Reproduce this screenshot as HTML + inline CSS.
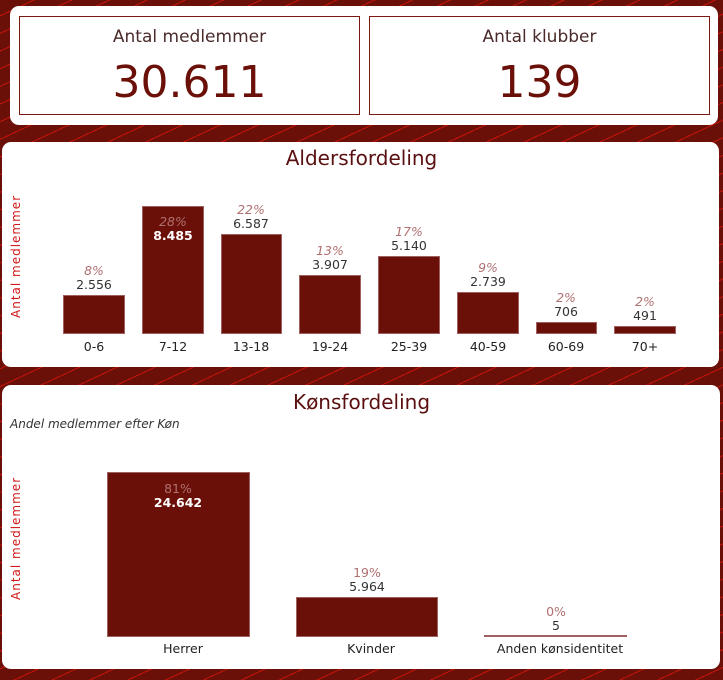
<!DOCTYPE html>
<html><head><meta charset="utf-8"><style>
*{margin:0;padding:0;box-sizing:border-box}
body{width:723px;height:680px;overflow:hidden;position:relative;font-family:"DejaVu Sans","Liberation Sans",sans-serif;
background:#6a1008;
background-image:repeating-linear-gradient(-25deg,#6a1008 0 11px,#c8140c 11px 12px,#6a1008 12px 16px);}
.p{position:absolute;background:#fff;border-radius:9px}
.a{position:absolute}
.box{position:absolute;border:1px solid #7a1a10;background:#fff;text-align:center}
.box .t{font-size:17px;color:#4a2a2a;margin-top:10px}
.box .n{font-size:44px;color:#6a1008;margin-top:10px;line-height:52px}
.bar{position:absolute;background:#6a1008;border:1px solid #a06060}
.lb{position:absolute;text-align:center;font-size:12.5px;color:#222}
.pc{position:absolute;text-align:center;font-size:12.5px;color:#b07070;font-style:italic}
.c{position:absolute;text-align:center;font-size:12.5px;color:#333}
.yl{position:absolute;color:#d01818;font-size:12px;letter-spacing:1px;transform:rotate(-90deg);transform-origin:left top;white-space:nowrap}
</style></head><body>
<div class="p" style="left:10px;top:6px;width:708px;height:119px"></div>
<div class="box" style="left:19px;top:16px;width:341px;height:99px"><div class="t">Antal medlemmer</div><div class="n">30.611</div></div>
<div class="box" style="left:369px;top:16px;width:341px;height:99px"><div class="t">Antal klubber</div><div class="n">139</div></div>

<div class="p" style="left:2px;top:142px;width:717px;height:225px"></div>
<div class="a" style="left:0;width:723px;top:146px;text-align:center;font-size:20px;color:#5a1010">Aldersfordeling</div>
<div class="yl" style="left:9px;top:318px">Antal medlemmer</div>

<div class="bar" style="left:63px;top:295px;width:62px;height:39px"></div>
<div class="bar" style="left:142px;top:206px;width:62px;height:128px"></div>
<div class="bar" style="left:221px;top:234px;width:61px;height:100px"></div>
<div class="bar" style="left:299px;top:275px;width:62px;height:59px"></div>
<div class="bar" style="left:378px;top:256px;width:62px;height:78px"></div>
<div class="bar" style="left:457px;top:292px;width:62px;height:42px"></div>
<div class="bar" style="left:536px;top:322px;width:61px;height:12px"></div>
<div class="bar" style="left:614px;top:326px;width:62px;height:8px"></div>

<div class="pc" style="left:54px;width:80px;top:263px">8%</div><div class="c" style="left:54px;width:80px;top:277px">2.556</div>
<div class="pc" style="left:133px;width:80px;top:214px">28%</div><div class="c" style="left:133px;width:80px;top:228px;color:#fff;font-weight:bold">8.485</div>
<div class="pc" style="left:211px;width:80px;top:202px">22%</div><div class="c" style="left:211px;width:80px;top:216px">6.587</div>
<div class="pc" style="left:290px;width:80px;top:243px">13%</div><div class="c" style="left:290px;width:80px;top:257px">3.907</div>
<div class="pc" style="left:369px;width:80px;top:224px">17%</div><div class="c" style="left:369px;width:80px;top:238px">5.140</div>
<div class="pc" style="left:448px;width:80px;top:260px">9%</div><div class="c" style="left:448px;width:80px;top:274px">2.739</div>
<div class="pc" style="left:526px;width:80px;top:290px">2%</div><div class="c" style="left:526px;width:80px;top:304px">706</div>
<div class="pc" style="left:605px;width:80px;top:294px">2%</div><div class="c" style="left:605px;width:80px;top:308px">491</div>

<div class="lb" style="left:54px;width:80px;top:339px">0-6</div>
<div class="lb" style="left:133px;width:80px;top:339px">7-12</div>
<div class="lb" style="left:211px;width:80px;top:339px">13-18</div>
<div class="lb" style="left:290px;width:80px;top:339px">19-24</div>
<div class="lb" style="left:369px;width:80px;top:339px">25-39</div>
<div class="lb" style="left:448px;width:80px;top:339px">40-59</div>
<div class="lb" style="left:526px;width:80px;top:339px">60-69</div>
<div class="lb" style="left:605px;width:80px;top:339px">70+</div>

<div class="p" style="left:2px;top:385px;width:718px;height:284px"></div>
<div class="a" style="left:0;width:723px;top:390px;text-align:center;font-size:20px;color:#5a1010">Kønsfordeling</div>
<div class="a" style="left:10px;top:417px;font-size:12px;font-style:italic;color:#333">Andel medlemmer efter Køn</div>
<div class="yl" style="left:9px;top:600px">Antal medlemmer</div>

<div class="bar" style="left:107px;top:472px;width:143px;height:165px"></div>
<div class="bar" style="left:296px;top:597px;width:142px;height:40px"></div>
<div class="bar" style="left:484px;top:635px;width:143px;height:2px;border:none;background:#a06060"></div>

<div class="pc" style="left:128px;width:100px;top:481px;font-style:normal">81%</div><div class="c" style="left:128px;width:100px;top:495px;color:#fff;font-weight:bold">24.642</div>
<div class="pc" style="left:317px;width:100px;top:565px;font-style:normal">19%</div><div class="c" style="left:317px;width:100px;top:579px">5.964</div>
<div class="pc" style="left:506px;width:100px;top:604px;font-style:normal">0%</div><div class="c" style="left:506px;width:100px;top:618px">5</div>

<div class="lb" style="left:103px;width:160px;top:641px">Herrer</div>
<div class="lb" style="left:291px;width:160px;top:641px">Kvinder</div>
<div class="lb" style="left:480px;width:160px;top:641px">Anden kønsidentitet</div>
</body></html>
